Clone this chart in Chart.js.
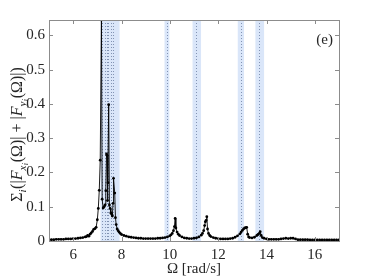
<!DOCTYPE html>
<html>
<head>
<meta charset="utf-8">
<script src="https://cdn.jsdelivr.net/npm/chart.js@4.4.0/dist/chart.umd.min.js"></script>
<style>
  html, body { margin: 0; padding: 0; background: #fff; }
  #wrap { width: 374px; height: 280px; }
</style>
</head>
<body>
<div id="wrap"><canvas id="spectrum"></canvas></div>
<script>
// frequency grid [rad/s] and summed force amplitude
var omega = [5.0, 5.1, 5.2, 5.3, 5.4, 5.5, 5.6, 5.7, 5.8, 5.9, 6.0, 6.1, 6.2, 6.3, 6.4, 6.5, 6.55, 6.6, 6.65, 6.7, 6.75, 6.8, 6.85, 6.9, 6.95,
    7.0, 7.04, 7.08, 7.12, 7.17, 7.2, 7.24, 7.28, 7.32, 7.35, 7.38, 7.4, 7.42, 7.44, 7.47, 7.5, 7.53, 7.56, 7.6, 7.62, 7.65, 7.67, 7.72, 7.75,
    7.78, 7.82, 7.86, 7.9, 7.95, 8.0, 8.1, 8.2, 8.3, 8.4, 8.5, 8.6, 8.7, 8.8, 8.9, 9.0, 9.1, 9.2, 9.3, 9.4, 9.5, 9.6, 9.7, 9.8, 9.9,
    10.0, 10.05, 10.1, 10.15, 10.19, 10.22, 10.25, 10.3, 10.35, 10.4, 10.5, 10.6, 10.7, 10.8, 10.9, 11.0, 11.1, 11.2, 11.3, 11.35, 11.4,
    11.44, 11.47, 11.5, 11.53, 11.56, 11.6, 11.65, 11.7, 11.8, 11.9, 12.0, 12.1, 12.2, 12.3, 12.4, 12.5, 12.6, 12.7, 12.8, 12.9, 12.95,
    13.0, 13.05, 13.1, 13.15, 13.18, 13.22, 13.26, 13.3, 13.4, 13.5, 13.6, 13.65, 13.7, 13.74, 13.78, 13.83, 13.9, 14.0, 14.1, 14.2, 14.3,
    14.4, 14.5, 14.6, 14.7, 14.8, 14.9, 15.0, 15.1, 15.2, 15.3, 15.4, 15.5, 15.6, 15.7, 15.8, 15.9, 16.0, 16.1, 16.2, 16.3, 16.4, 16.5,
    16.6, 16.7, 16.8, 16.9, 17.0];
var force = [0.004, 0.004, 0.004, 0.005, 0.005, 0.005, 0.005, 0.006, 0.006, 0.006, 0.007, 0.007, 0.008, 0.009, 0.010, 0.012, 0.013, 0.016, 0.014, 0.020, 0.024, 0.028, 0.034, 0.036, 0.040,
    0.062, 0.095, 0.148, 0.236, 0.645, 0.122, 0.096, 0.100, 0.105, 0.147, 0.254, 0.250, 0.118, 0.170, 0.398, 0.105, 0.095, 0.082, 0.078, 0.073, 0.110, 0.183, 0.140, 0.068,
    0.048, 0.035, 0.030, 0.026, 0.022, 0.019, 0.016, 0.014, 0.012, 0.011, 0.010, 0.009, 0.008, 0.008, 0.007, 0.007, 0.007, 0.007, 0.007, 0.007, 0.008, 0.008, 0.009, 0.010, 0.012,
    0.015, 0.018, 0.022, 0.030, 0.042, 0.066, 0.038, 0.026, 0.020, 0.016, 0.012, 0.009, 0.008, 0.007, 0.007, 0.008, 0.009, 0.012, 0.017, 0.022, 0.030,
    0.045, 0.056, 0.060, 0.071, 0.035, 0.022, 0.016, 0.013, 0.010, 0.008, 0.007, 0.006, 0.006, 0.006, 0.006, 0.007, 0.008, 0.011, 0.015, 0.021, 0.026,
    0.031, 0.035, 0.038, 0.039, 0.040, 0.020, 0.012, 0.010, 0.009, 0.011, 0.016, 0.019, 0.022, 0.027, 0.016, 0.010, 0.008, 0.006, 0.005, 0.005, 0.005,
    0.005, 0.005, 0.006, 0.007, 0.008, 0.007, 0.008, 0.008, 0.006, 0.004, 0.004, 0.004, 0.004, 0.004, 0.003, 0.003, 0.003, 0.003, 0.003, 0.003, 0.003, 0.003,
    0.003, 0.003, 0.003, 0.003, 0.003];

// shaded natural-frequency bands and the dotted lines inside them
var bandStart = [7.13, 9.78, 10.94, 12.81, 13.54];
var bandEnd = [7.92, 9.98, 11.29, 13.07, 13.9];
var modeLines = [7.21, 7.30, 7.38, 7.46, 7.57, 7.66, 9.87, 11.1, 12.94, 13.7];

var xTicks = [6, 8, 10, 12, 14, 16];
var yTicks = [0, 0.1, 0.2, 0.3, 0.4, 0.5, 0.6];

var serif = "'Liberation Serif', 'DejaVu Serif', serif";
var axisGrey = "#8c8c8c";

// bands behind the data, box + inward ticks + labels on top
var decorations = {
    id: "decorations",
    beforeDatasetsDraw: function(chart) {
        var ctx = chart.ctx, a = chart.chartArea, xs = chart.scales.x;
        ctx.save();
        ctx.fillStyle = "rgba(205,222,247,0.75)";
        for (var i = 0; i < bandStart.length; i++) {
            var x0 = xs.getPixelForValue(bandStart[i]);
            var x1 = xs.getPixelForValue(bandEnd[i]);
            ctx.fillRect(x0, a.top, x1 - x0, a.bottom - a.top);
        }
        ctx.strokeStyle = "rgba(80,100,140,0.8)";
        ctx.lineWidth = 0.8;
        ctx.setLineDash([1, 2]);
        modeLines.forEach(function(w) {
            var px = Math.round(xs.getPixelForValue(w)) + 0.5;
            ctx.beginPath();
            ctx.moveTo(px, a.top);
            ctx.lineTo(px, a.bottom);
            ctx.stroke();
        });
        ctx.restore();
    },
    afterDraw: function(chart) {
        var ctx = chart.ctx, a = chart.chartArea;
        var xs = chart.scales.x, ys = chart.scales.y;
        ctx.save();
        ctx.strokeStyle = axisGrey;
        ctx.lineWidth = 1;
        ctx.strokeRect(Math.round(a.left) + 0.5, Math.round(a.top) + 0.5,
            Math.round(a.right - a.left), Math.round(a.bottom - a.top));
        ctx.beginPath();
        xTicks.forEach(function(v) {
            var px = Math.round(xs.getPixelForValue(v)) + 0.5;
            ctx.moveTo(px, a.bottom); ctx.lineTo(px, a.bottom - 4);
            ctx.moveTo(px, a.top); ctx.lineTo(px, a.top + 4);
        });
        yTicks.forEach(function(v) {
            var py = Math.round(ys.getPixelForValue(v)) + 0.5;
            ctx.moveTo(a.left, py); ctx.lineTo(a.left + 4, py);
            ctx.moveTo(a.right, py); ctx.lineTo(a.right - 4, py);
        });
        ctx.stroke();

        ctx.fillStyle = "#262626";
        ctx.font = "15px " + serif;
        ctx.textAlign = "right";
        ctx.textBaseline = "middle";
        ctx.fillText("(e)", a.right - 6, a.top + 20);

        // x axis title
        ctx.textAlign = "center";
        ctx.textBaseline = "alphabetic";
        ctx.font = "15px " + serif;
        ctx.fillText("\u03A9 [rad/s]", (a.left + a.right) / 2, 273);

        // y axis title with subscripts, rotated
        var parts = [
            ["\u03A3", "n", 0], ["i", "i", 1], ["(|", "n", 0], ["F", "i", 0], ["x", "i", 1], ["i", "i", 2],
            ["(\u03A9)| + |", "n", 0], ["F", "i", 0], ["y", "i", 1], ["i", "i", 2], ["(\u03A9)|)", "n", 0]
        ];
        var sizes = [16, 11, 8.5], shifts = [0, 3.5, 6];
        function fontFor(p) { return (p[1] === "i" ? "italic " : "") + sizes[p[2]] + "px " + serif; }
        var total = 0;
        parts.forEach(function(p) { ctx.font = fontFor(p); total += ctx.measureText(p[0]).width + (p[2] ? 0.5 : 0); });
        ctx.translate(22, (a.top + a.bottom) / 2 + 4);
        ctx.rotate(-Math.PI / 2);
        ctx.textAlign = "left";
        var cx = -total / 2;
        parts.forEach(function(p) {
            ctx.font = fontFor(p);
            ctx.fillText(p[0], cx, shifts[p[2]]);
            cx += ctx.measureText(p[0]).width + (p[2] ? 0.5 : 0);
        });
        ctx.restore();
    }
};

new Chart(document.getElementById("spectrum"), {
    type: "line",
    data: {
        datasets: [{
            data: omega.map(function(w, i) { return { x: w, y: force[i] }; }),
            borderColor: "#000",
            borderWidth: 0.9,
            pointRadius: 1.4,
            pointBackgroundColor: "#000",
            pointBorderWidth: 0,
            tension: 0
        }]
    },
    options: {
        responsive: true,
        maintainAspectRatio: false,
        animation: false,
        devicePixelRatio: 1,
        layout: { padding: { left: 0, right: 35, top: 20, bottom: 0 } },
        plugins: { legend: { display: false }, tooltip: { enabled: false } },
        scales: {
            x: {
                type: "linear",
                min: 5,
                max: 17,
                afterBuildTicks: function(scale) { scale.ticks = xTicks.map(function(v) { return { value: v }; }); },
                afterFit: function(scale) { scale.height = 39; },
                grid: { display: false, drawTicks: false },
                border: { display: false },
                ticks: { color: "#262626", font: { family: serif, size: 15 }, padding: 5, maxRotation: 0 }
            },
            y: {
                min: 0,
                max: 0.645,
                afterBuildTicks: function(scale) { scale.ticks = yTicks.map(function(v) { return { value: v }; }); },
                afterFit: function(scale) { scale.width = 49; },
                grid: { display: false, drawTicks: false },
                border: { display: false },
                ticks: { color: "#262626", font: { family: serif, size: 15 }, padding: 4 }
            }
        }
    },
    plugins: [decorations]
});
</script>
</body>
</html>
